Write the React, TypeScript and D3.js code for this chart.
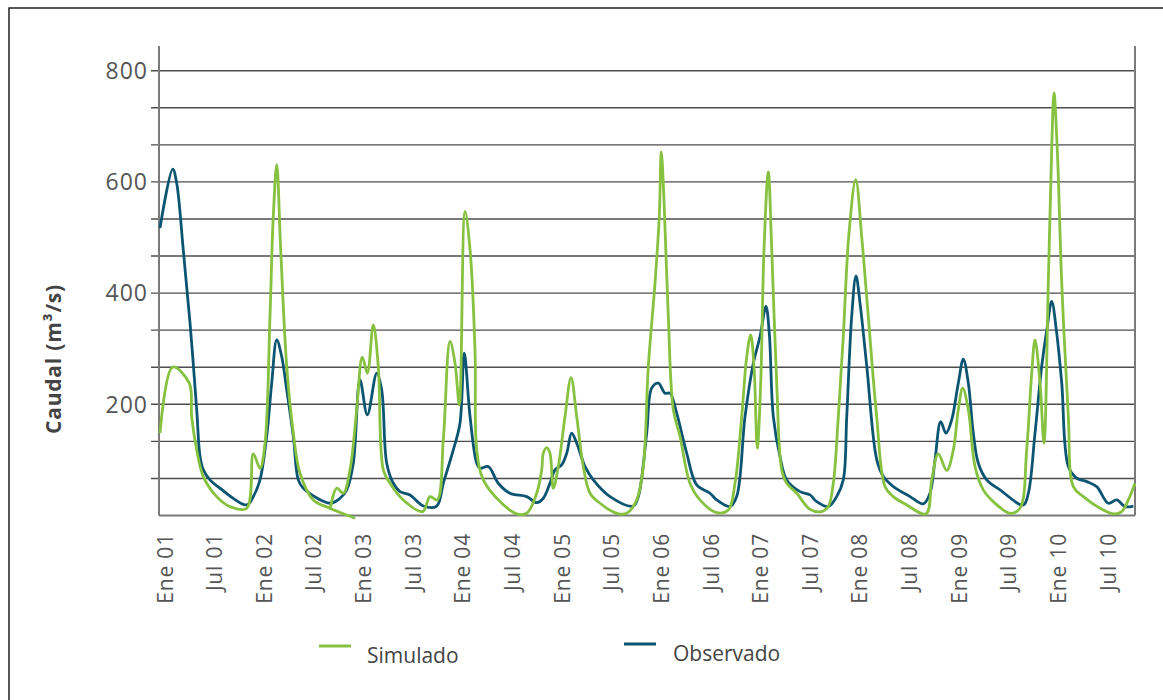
import React from "react";
import * as d3 from "d3";

// month index from Ene 01 (0) and caudal in m3/s
const observado: [number, number][] = [
  [0, 517], [1.54, 623], [2.02, 598], [2.82, 478], [3.64, 346], [4.45, 190], [4.85, 106], [5.25, 82],
  [6.06, 64], [7.27, 49], [10.51, 19], [11.31, 34], [12.12, 64], [12.93, 142], [13.54, 238], [14.15, 316],
  [14.75, 286], [15.36, 226], [16.16, 142], [16.76, 64], [17.37, 49], [20.61, 22], [21.82, 31], [22.63, 46],
  [23.43, 94], [24.24, 244], [25.13, 181], [26.27, 256], [26.87, 226], [27.48, 94], [28.28, 58], [29.09, 43],
  [30.3, 37], [31.92, 17], [33.54, 17], [34.34, 58], [35.55, 118], [36.36, 166], [36.88, 292], [37.58, 178],
  [38.39, 94], [38.79, 85], [39.79, 88], [41.0, 58], [42.42, 40], [44.45, 34], [45.66, 23], [46.46, 31],
  [47.27, 58], [47.88, 82], [48.69, 91], [49.3, 112], [49.9, 148], [50.51, 130], [51.52, 88], [52.52, 64],
  [54.55, 34], [57.37, 17], [57.98, 34], [58.99, 148], [59.6, 229], [60.4, 238], [61.21, 220], [61.82, 220],
  [62.63, 184], [63.84, 112], [65.05, 55], [66.67, 40], [67.48, 28], [69.09, 16], [69.9, 34], [70.91, 178],
  [71.92, 274], [72.73, 322], [73.45, 376], [73.85, 328], [74.34, 178], [75.15, 106], [75.96, 64], [77.58, 43],
  [78.79, 37], [79.6, 25], [81.0, 16], [82.02, 34], [82.82, 64], [83.24, 178], [83.84, 358], [84.36, 431],
  [84.85, 382], [85.67, 268], [86.88, 100], [87.68, 70], [88.89, 52], [90.91, 34], [92.52, 21], [93.33, 40],
  [93.94, 100], [94.63, 169], [95.27, 148], [95.96, 172], [96.76, 238], [97.37, 281], [97.98, 238], [98.58, 148],
  [99.19, 94], [100.21, 64], [101.82, 46], [104.64, 19], [105.25, 40], [106.06, 148], [106.87, 268], [107.55, 340],
  [108.08, 385], [108.69, 328], [109.3, 238], [110.1, 88], [111.12, 67], [112.33, 61], [113.54, 52], [114.95, 22],
  [115.96, 28], [116.97, 16], [117.98, 17],
];

const simulado: [number, number | null][] = [
  [0, 148], [1.54, 267], [3.55, 238], [3.84, 178], [4.45, 118], [5.25, 70], [6.87, 34], [8.48, 16],
  [10.51, 13], [11.31, 111], [12.12, 85], [12.73, 130], [13.33, 358], [13.73, 538], [14.15, 631], [14.63, 478],
  [15.36, 268], [16.16, 148], [16.97, 76], [18.58, 28], [20.61, 13], [23.64, -5],
  [20.61, null],
  [20.61, 10], [21.42, 49], [22.22, 40], [23.03, 82], [23.84, 190], [24.52, 285], [25.13, 256], [25.85, 343],
  [26.46, 268], [27.07, 82], [27.88, 58], [29.49, 28], [31.84, 7], [32.73, 34], [33.61, 28], [34.34, 136],
  [35.15, 313], [35.76, 274], [36.28, 199], [36.97, 547], [37.58, 478], [38.18, 298], [38.39, 118], [39.19, 64],
  [41.21, 25], [43.24, 3], [44.45, 4], [45.66, 40], [46.27, 82], [46.46, 112], [46.87, 122], [47.27, 112],
  [47.67, 49], [48.28, 88], [49.09, 178], [49.82, 248], [50.51, 178], [51.31, 88], [52.12, 40], [53.33, 22],
  [55.36, 4], [56.57, 4], [57.78, 28], [58.58, 88], [59.19, 268], [60.0, 418], [60.52, 538], [60.76, 654],
  [61.09, 568], [61.61, 358], [62.22, 190], [63.03, 142], [64.24, 58], [65.45, 28], [67.48, 5], [68.89, 10],
  [69.7, 58], [70.51, 178], [71.12, 286], [71.6, 325], [72.0, 268], [72.4, 121], [72.81, 238], [73.21, 478],
  [73.73, 618], [74.15, 478], [74.75, 238], [75.36, 82], [75.96, 58], [77.18, 40], [78.79, 11], [80.2, 7],
  [81.0, 16], [81.61, 58], [82.22, 178], [82.82, 322], [83.5, 505], [84.33, 604], [85.05, 502], [85.85, 358],
  [86.87, 178], [87.88, 52], [88.89, 34], [90.51, 19], [92.85, 3], [93.54, 64], [94.33, 111], [95.36, 81],
  [96.16, 118], [96.76, 190], [97.3, 229], [97.98, 190], [98.79, 88], [99.79, 46], [101.0, 25], [103.03, 4],
  [104.24, 13], [105.05, 118], [105.66, 256], [106.06, 316], [106.67, 238], [107.15, 130], [107.67, 418],
  [108.08, 658], [108.36, 760], [108.76, 658], [109.3, 418], [110.1, 178], [110.71, 52], [111.92, 34],
  [113.94, 13], [115.56, 3], [116.57, 7], [117.37, 28], [118.18, 58],
];

const xLabels = [
  "Ene 01", "Jul 01", "Ene 02", "Jul 02", "Ene 03", "Jul 03", "Ene 04", "Jul 04", "Ene 05", "Jul 05",
  "Ene 06", "Jul 06", "Ene 07", "Jul 07", "Ene 08", "Jul 08", "Ene 09", "Jul 09", "Ene 10", "Jul 10",
];
const yTickLabels = [200, 400, 600, 800];
const yGrid = d3.range(0, 13).map((i) => (i * 800) / 12);

const seriesNames = ["Simulado", "Observado"];
const colors = { sim: "#86c13f", obs: "#0c5572" };

export default function App() {
  const left = 159, right = 1135, top = 46, bottom = 515.5;
  const x = d3.scaleLinear().domain([0, 118.18]).range([160, right]);
  const y = d3.scaleLinear().domain([0, 800]).range([bottom, 70.7]);
  const xl = d3.scalePoint<string>().domain(xLabels).range([165, 1108]);

  const obsLine = d3
    .line<[number, number]>()
    .x((d) => x(d[0]))
    .y((d) => y(d[1]))
    .curve(d3.curveCatmullRom.alpha(0.5));
  const simLine = d3
    .line<[number, number | null]>()
    .defined((d) => d[1] !== null)
    .x((d) => x(d[0]))
    .y((d) => y(d[1] as number))
    .curve(d3.curveCatmullRom.alpha(0.5));

  const font = "'Open Sans', 'DejaVu Sans', sans-serif";

  return (
    <svg
      width={1163}
      height={700}
      style={{ position: "absolute", left: 0, top: 0, background: "#fff" }}
    >
      <rect x={9} y={8} width={1170} height={710} fill="#fff" stroke="#222" strokeWidth={1.5} />
      {yGrid.slice(1).map((v, i) => (
        <line key={i} x1={151} x2={right} y1={y(v)} y2={y(v)} stroke="#4d4d4d" strokeWidth={1.4} />
      ))}
      <line x1={left} x2={left} y1={top} y2={bottom} stroke="#7a7a7a" strokeWidth={2} />
      <line x1={right} x2={right} y1={top} y2={bottom} stroke="#7a7a7a" strokeWidth={2} />
      <line x1={left} x2={right} y1={bottom} y2={bottom} stroke="#7a7a7a" strokeWidth={2} />
      {yTickLabels.map((v) => (
        <text
          key={v}
          x={148}
          y={y(v)}
          dy="0.36em"
          textAnchor="end"
          fontFamily={font}
          fontWeight={400}
          fontSize={23}
          letterSpacing={1}
          fill="#555"
        >
          {v}
        </text>
      ))}
      {xLabels.map((l) => (
        <text
          key={l}
          transform={`translate(${xl(l)},533) rotate(-90)`}
          dy="0.36em"
          textAnchor="end"
          fontFamily={font}
          fontWeight={400}
          fontSize={21}
          letterSpacing={0.8}
          fill="#555"
        >
          {l}
        </text>
      ))}
      <text
        transform="translate(53,359) rotate(-90)"
        dy="0.36em"
        textAnchor="middle"
        fontFamily={font}
        fontWeight={700}
        fontSize={21}
        letterSpacing={0.8}
        fill="#444"
      >
        Caudal (m³/s)
      </text>
      <path d={obsLine(observado) || ""} fill="none" stroke={colors.obs} strokeWidth={2.8} strokeLinejoin="round" />
      <path d={simLine(simulado) || ""} fill="none" stroke={colors.sim} strokeWidth={2.8} strokeLinejoin="round" />
      {/* legend */}
      <line x1={319} x2={351} y1={646} y2={646} stroke={colors.sim} strokeWidth={3} />
      <text x={367} y={663} fontFamily={font} fontWeight={400} fontSize={21} fill="#444">
        {seriesNames[0]}
      </text>
      <line x1={624} x2={656} y1={644} y2={644} stroke={colors.obs} strokeWidth={3} />
      <text x={673} y={661} fontFamily={font} fontWeight={400} fontSize={21} fill="#444">
        {seriesNames[1]}
      </text>
    </svg>
  );
}
